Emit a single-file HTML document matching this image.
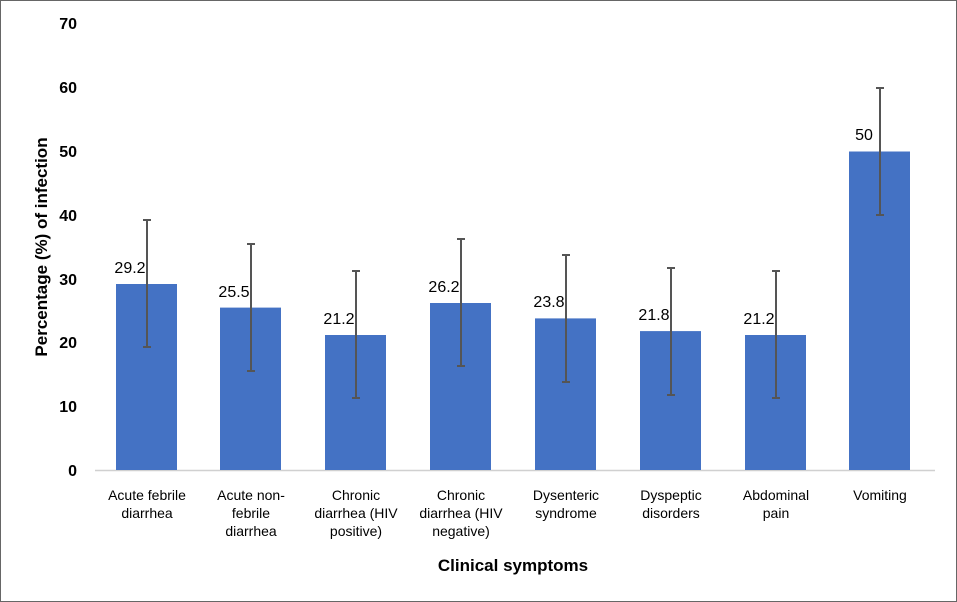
<!DOCTYPE html><html><head><style>body{margin:0;background:#fff}svg{display:block}text{font-family:"Liberation Sans",sans-serif}</style></head><body>
<svg width="957" height="602" xmlns="http://www.w3.org/2000/svg">
<rect x="0.5" y="0.5" width="956" height="601" fill="#fff" stroke="#666"/>
<g font-size="16" font-weight="bold" text-anchor="end" fill="#000">
<text x="77" y="476">0</text><text x="77" y="412">10</text><text x="77" y="348">20</text><text x="77" y="285">30</text><text x="77" y="221">40</text><text x="77" y="157">50</text><text x="77" y="93">60</text><text x="77" y="29">70</text></g>
<line x1="95" y1="470.5" x2="935" y2="470.5" stroke="#d0d0d0" stroke-width="1.5"/>
<g fill="#4472c4">
<rect x="116" y="284" width="61" height="186"/>
<rect x="220" y="307.6" width="61" height="162.4"/>
<rect x="325" y="335" width="61" height="135"/>
<rect x="430" y="303" width="61" height="167"/>
<rect x="535" y="318.4" width="61" height="151.6"/>
<rect x="640" y="331.1" width="61" height="138.9"/>
<rect x="745" y="335" width="61" height="135"/>
<rect x="849" y="151.5" width="61" height="318.5"/></g>
<g stroke="#555" stroke-width="2">
<path d="M147 220v127M143 220h8M143 347h8"/>
<path d="M251 244v127M247 244h8M247 371h8"/>
<path d="M356 271v127M352 271h8M352 398h8"/>
<path d="M461 239v127M457 239h8M457 366h8"/>
<path d="M566 255v127M562 255h8M562 382h8"/>
<path d="M671 268v127M667 268h8M667 395h8"/>
<path d="M776 271v127M772 271h8M772 398h8"/>
<path d="M880 88v127M876 88h8M876 215h8"/></g>
<g font-size="16" fill="#000" text-anchor="middle">
<text x="130" y="273">29.2</text><text x="234" y="297">25.5</text><text x="339" y="324">21.2</text><text x="444" y="292">26.2</text><text x="549" y="307">23.8</text><text x="654" y="320">21.8</text><text x="759" y="324">21.2</text><text x="864" y="140">50</text></g>
<g font-size="14" fill="#000" text-anchor="middle">
<text x="147" y="500">Acute febrile</text><text x="147" y="518">diarrhea</text>
<text x="251" y="500">Acute non-</text><text x="251" y="518">febrile</text><text x="251" y="536">diarrhea</text>
<text x="356" y="500">Chronic</text><text x="356" y="518">diarrhea (HIV</text><text x="356" y="536">positive)</text>
<text x="461" y="500">Chronic</text><text x="461" y="518">diarrhea (HIV</text><text x="461" y="536">negative)</text>
<text x="566" y="500">Dysenteric</text><text x="566" y="518">syndrome</text>
<text x="671" y="500">Dyspeptic</text><text x="671" y="518">disorders</text>
<text x="776" y="500">Abdominal</text><text x="776" y="518">pain</text>
<text x="880" y="500">Vomiting</text></g>
<text x="513" y="571" font-size="17" font-weight="bold" text-anchor="middle">Clinical symptoms</text>
<text transform="translate(47,247) rotate(-90)" font-size="17" font-weight="bold" text-anchor="middle">Percentage (%) of infection</text>
</svg></body></html>
